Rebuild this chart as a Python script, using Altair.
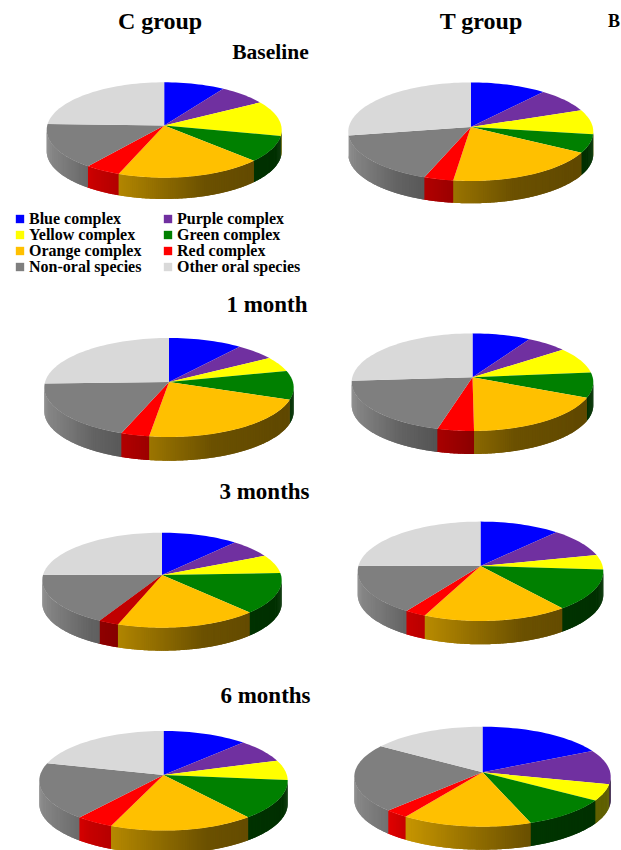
import math
import altair as alt
import pandas as pd

categories = ["Blue complex", "Purple complex", "Yellow complex", "Green complex",
              "Orange complex", "Red complex", "Non-oral species", "Other oral species"]
palette = ["#0000FF", "#7030A0", "#FFFF00", "#008000", "#FFC000", "#FF0000", "#7F7F7F", "#D9D9D9"]

# Percentage of each complex per group and time point
c_baseline = [8.4, 6.8, 11.8, 9.2, 20.2, 4.9, 15.8, 23.0]
t_baseline = [10.1, 7.8, 8.0, 6.2, 20.3, 3.9, 17.6, 26.3]
c_1_month = [9.6, 5.3, 4.7, 9.4, 23.6, 3.7, 20.1, 23.7]
t_1_month = [7.8, 5.6, 8.4, 8.4, 19.6, 4.9, 20.8, 24.5]
c_3_months = [10.4, 6.0, 6.2, 14.3, 19.1, 2.7, 18.1, 23.2]
t_3_months = [10.6, 9.1, 4.7, 14.0, 19.1, 2.8, 16.5, 23.2]
c_6_months = [11.1, 7.3, 6.4, 13.3, 18.9, 4.9, 18.9, 19.3]
t_6_months = [16.4, 11.0, 5.5, 11.0, 16.4, 2.9, 22.3, 14.6]

# Placement of each disc: centre x, rim centre y, apex y, radii, wall depth
pies = [
    ("C baseline", c_baseline, 164.2, 130.0, 125.5, 117.5, 47.7, 21.3),
    ("T baseline", t_baseline, 470.8, 131.7, 127.0, 122.5, 49.3, 22.3),
    ("C 1 month", c_1_month, 169.0, 387.5, 382.0, 124.7, 49.5, 23.7),
    ("T 1 month", t_1_month, 472.5, 382.2, 377.3, 120.8, 48.8, 23.0),
    ("C 3 months", c_3_months, 162.0, 580.2, 575.0, 119.7, 47.5, 23.0),
    ("T 3 months", t_3_months, 480.5, 571.3, 566.0, 122.8, 49.7, 23.3),
    ("C 6 months", c_6_months, 163.5, 780.8, 775.0, 124.2, 49.8, 23.0),
    ("T 6 months", t_6_months, 482.5, 776.7, 772.3, 128.2, 50.0, 23.0),
]
DARK_RED_PIE = "C 3 months"

titles = [
    ("C group", 160, 29, 24), ("T group", 481, 29, 24), ("B", 614, 27, 18),
    ("Baseline", 270.5, 59, 21.5), ("1 month", 267, 311.5, 23),
    ("3 months", 264.5, 499, 23), ("6 months", 265.5, 703, 23),
]

# Wall brightness against horizontal position on the disc (-1 left, +1 right)
SHADE_U = [-1.0, -0.6, -0.39, 0.0, 0.35, 1.0]
SHADE_K = [1.08, 0.78, 0.70, 0.55, 0.42, 0.37]


def shade(u):
    for i in range(len(SHADE_U) - 1):
        if u <= SHADE_U[i + 1]:
            f = (u - SHADE_U[i]) / (SHADE_U[i + 1] - SHADE_U[i])
            return SHADE_K[i] + f * (SHADE_K[i + 1] - SHADE_K[i])
    return SHADE_K[-1]


def tint(hex_colour, k):
    rgb = [int(hex_colour[i:i + 2], 16) for i in (1, 3, 5)]
    return "#%02x%02x%02x" % tuple(min(255, round(c * k)) for c in rgb)


wedge_rows, wall_rows = [], []
for name, shares, cx, rim_y, apex_y, rx, ry, depth in pies:
    total = sum(shares)
    start = 0.0
    for cat, colour, share in zip(categories, palette, shares):
        stop = start + share / total * 360
        steps = max(2, math.ceil((stop - start) / 2))
        angles = [start + (stop - start) * i / steps for i in range(steps + 1)]
        if name == DARK_RED_PIE and cat == "Red complex":
            colour = "#C00000"
        key = f"{name} {cat}"
        points = [(cx, apex_y)] + [
            (cx + rx * math.sin(math.radians(a)), rim_y - ry * math.cos(math.radians(a)))
            for a in angles
        ]
        for i, (x, y) in enumerate(points):
            wedge_rows.append({"wedge": key, "category": cat, "hex": colour, "i": i, "x": x, "y": y})
        # Front wall: quads along the rim, each with its own brightness. Every quad
        # runs on past its neighbour's start, so the next one painted hides the seam.
        lo, hi = max(start, 90.0), min(stop, 270.0)
        if hi > lo:
            n = max(1, math.ceil((hi - lo) / 1.0))
            step = (hi - lo) / n
            for s in range(n):
                a0 = lo + step * s
                a1 = min(a0 + step + 1.0, 270.0)
                arc = [a0 + (a1 - a0) * k / 3 for k in range(4)]
                fill = tint(colour, shade(math.sin(math.radians(a0 + step / 2))))
                rim = [(cx + rx * math.sin(math.radians(a)),
                        rim_y - ry * math.cos(math.radians(a))) for a in arc]
                outline = rim + [(x, y + depth) for x, y in reversed(rim)]
                for j, (x, y) in enumerate(outline):
                    wall_rows.append({"strip": f"{key} {s:03d}", "fill": fill, "i": j, "x": x, "y": y})
        start = stop

wedges = pd.DataFrame(wedge_rows)
walls = pd.DataFrame(wall_rows)
labels = pd.DataFrame(titles, columns=["text", "x", "y", "size"])

x_scale = alt.Scale(domain=[0, 621], nice=False, zero=False)
y_scale = alt.Scale(domain=[850, 0], nice=False, zero=False)
x_enc = alt.X("x:Q", scale=x_scale, axis=None)
y_enc = alt.Y("y:Q", scale=y_scale, axis=None)

wall_layer = alt.Chart(walls).mark_line(filled=True, strokeWidth=0).encode(
    x=x_enc, y=y_enc,
    fill=alt.Fill("fill:N", scale=None),
    detail="strip:N",
    order="i:Q",
)

legend = alt.Legend(
    orient="none", legendX=12, legendY=211, direction="horizontal", columns=2, title=None,
    symbolType="square", symbolSize=70, symbolStrokeWidth=0, labelFont="Liberation Serif",
    labelFontSize=16, labelFontWeight="bold", labelColor="#000000", labelOffset=1,
    rowPadding=-1, columnPadding=18, labelLimit=200, values=categories,
)
wedge_layer = alt.Chart(wedges).mark_line(filled=True, strokeWidth=0).encode(
    x=x_enc, y=y_enc,
    color=alt.Color("category:N", sort=categories, legend=legend,
                    scale=alt.Scale(domain=categories, range=palette)),
    detail="wedge:N",
    order="i:Q",
)
# The small red sector of the C group at 3 months is a deeper shade
dark_layer = alt.Chart(
    wedges[wedges["wedge"] == f"{DARK_RED_PIE} Red complex"]
).mark_line(filled=True, strokeWidth=0).encode(
    x=x_enc, y=y_enc,
    color=alt.Color("hex:N", scale=None),
    detail="wedge:N",
    order="i:Q",
)

text_layer = alt.Chart(labels).mark_text(
    font="Liberation Serif", fontWeight="bold", color="#000000", align="center", baseline="alphabetic"
).encode(
    x=x_enc, y=y_enc, text="text:N",
    size=alt.Size("size:Q", scale=None, legend=None),
)

chart = alt.layer(wall_layer, wedge_layer, dark_layer, text_layer).resolve_scale(
    color="independent"
).properties(
    width=621, height=850, padding=0, autosize=alt.AutoSizeParams(type="none"),
    background="#FFFFFF",
).configure_view(stroke=None)

chart.save("out.html", embed_options={"renderer": "svg", "actions": False})
